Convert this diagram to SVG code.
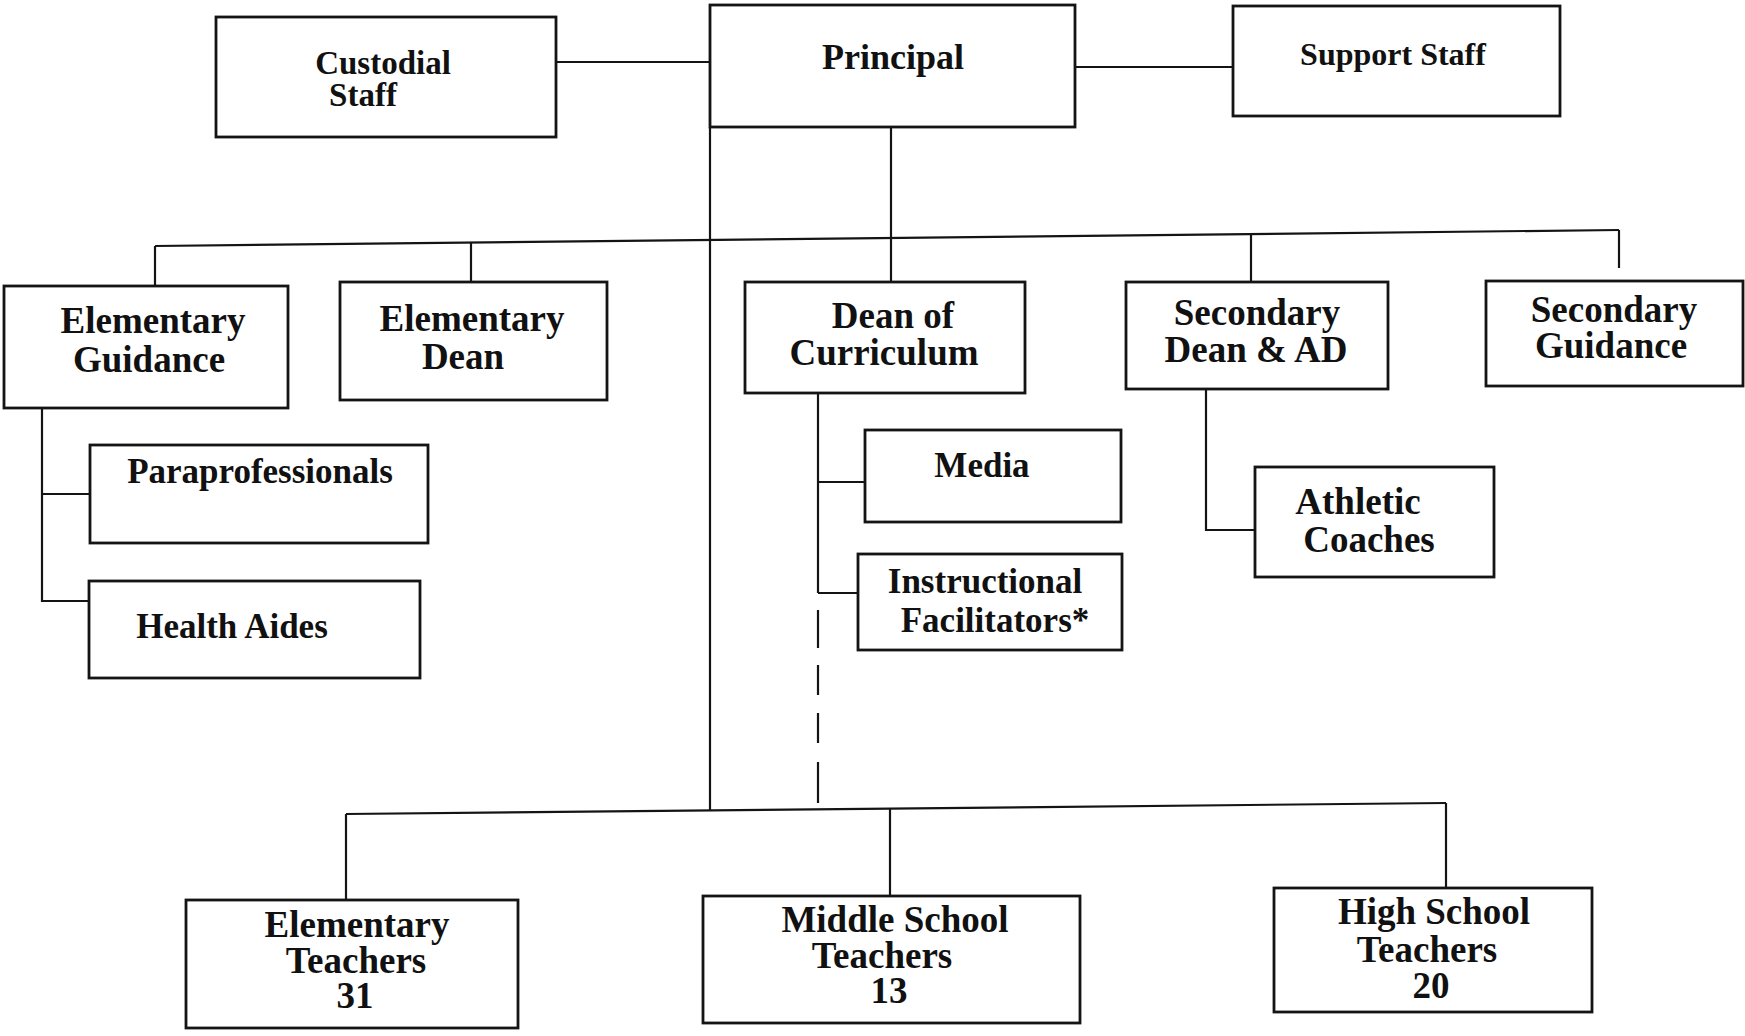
<svg xmlns="http://www.w3.org/2000/svg" width="1745" height="1036" viewBox="0 0 1745 1036">
<style>
.box{fill:#fff;stroke:#141414;stroke-width:2.8}
.ln{fill:none;stroke:#141414;stroke-width:2.2}
.t{font-family:"Liberation Serif","Times New Roman",serif;font-weight:bold;fill:#111;text-anchor:middle}
.s32{font-size:32px}
.s33{font-size:33px}
.s35{font-size:35px}
.s36{font-size:36px}
.s37{font-size:37px}
</style>
<rect width="1745" height="1036" fill="#fff"/>
<g id="connectors">
<line class="ln" x1="556" y1="62" x2="710" y2="62"/>
<line class="ln" x1="1075" y1="67" x2="1233" y2="67"/>
<line class="ln" x1="710" y1="127" x2="710" y2="811"/>
<line class="ln" x1="891" y1="127" x2="891" y2="282"/>
<line class="ln" x1="155" y1="246" x2="1619" y2="230"/>
<line class="ln" x1="155" y1="246" x2="155" y2="286"/>
<line class="ln" x1="471" y1="242.5" x2="471" y2="282"/>
<line class="ln" x1="1251" y1="234" x2="1251" y2="282"/>
<line class="ln" x1="1619" y1="230" x2="1619" y2="268"/>
<polyline class="ln" points="42,408 42,601 89,601"/>
<line class="ln" x1="42" y1="494" x2="90" y2="494"/>
<line class="ln" x1="818" y1="393" x2="818" y2="593"/>
<line class="ln" x1="818" y1="482" x2="865" y2="482"/>
<line class="ln" x1="818" y1="593" x2="858" y2="593"/>
<path class="ln" d="M818 610V648M818 665V695M818 713V743M818 762V803"/>
<polyline class="ln" points="1206,389 1206,530 1255,530"/>
<line class="ln" x1="346" y1="814" x2="1446" y2="803"/>
<line class="ln" x1="346" y1="814" x2="346" y2="900"/>
<line class="ln" x1="890" y1="808.6" x2="890" y2="896"/>
<line class="ln" x1="1446" y1="803" x2="1446" y2="888"/>
</g>
<g id="custodial-staff">
<rect class="box" x="216" y="17" width="340" height="120"/>
<text class="t s33" x="383" y="74">Custodial</text>
<text class="t s33" x="363" y="106">Staff</text>
</g>
<g id="principal">
<rect class="box" x="710" y="5" width="365" height="122"/>
<text class="t s36" x="893" y="69">Principal</text>
</g>
<g id="support-staff">
<rect class="box" x="1233" y="6" width="327" height="110"/>
<text class="t s32" x="1393" y="65">Support Staff</text>
</g>
<g id="elementary-guidance">
<rect class="box" x="4" y="286" width="284" height="122"/>
<text class="t s37" x="153" y="333">Elementary</text>
<text class="t s37" x="149" y="372">Guidance</text>
</g>
<g id="elementary-dean">
<rect class="box" x="340" y="282" width="267" height="118"/>
<text class="t s37" x="472" y="331">Elementary</text>
<text class="t s37" x="463" y="369">Dean</text>
</g>
<g id="dean-of-curriculum">
<rect class="box" x="745" y="282" width="280" height="111"/>
<text class="t s37" x="893" y="328">Dean of</text>
<text class="t s37" x="884" y="365">Curriculum</text>
</g>
<g id="secondary-dean-ad">
<rect class="box" x="1126" y="282" width="262" height="107"/>
<text class="t s37" x="1257" y="325">Secondary</text>
<text class="t s37" x="1256" y="362">Dean &amp; AD</text>
</g>
<g id="secondary-guidance">
<rect class="box" x="1486" y="281" width="257" height="105"/>
<text class="t s37" x="1614" y="322">Secondary</text>
<text class="t s37" x="1611" y="358">Guidance</text>
</g>
<g id="paraprofessionals">
<rect class="box" x="90" y="445" width="338" height="98"/>
<text class="t s35" x="260" y="483">Paraprofessionals</text>
</g>
<g id="health-aides">
<rect class="box" x="89" y="581" width="331" height="97"/>
<text class="t s35" x="232" y="638">Health Aides</text>
</g>
<g id="media">
<rect class="box" x="865" y="430" width="256" height="92"/>
<text class="t s35" x="982" y="477">Media</text>
</g>
<g id="instructional-facilitators">
<rect class="box" x="858" y="554" width="264" height="96"/>
<text class="t s35" x="985" y="593">Instructional</text>
<text class="t s35" x="995" y="632">Facilitators*</text>
</g>
<g id="athletic-coaches">
<rect class="box" x="1255" y="467" width="239" height="110"/>
<text class="t s37" x="1358" y="514">Athletic</text>
<text class="t s37" x="1369" y="552">Coaches</text>
</g>
<g id="elementary-teachers">
<rect class="box" x="186" y="900" width="332" height="128"/>
<text class="t s37" x="357" y="937">Elementary</text>
<text class="t s37" x="356" y="973">Teachers</text>
<text class="t s37" x="355" y="1008">31</text>
</g>
<g id="middle-school-teachers">
<rect class="box" x="703" y="896" width="377" height="127"/>
<text class="t s37" x="895" y="932">Middle School</text>
<text class="t s37" x="882" y="968">Teachers</text>
<text class="t s37" x="889" y="1003">13</text>
</g>
<g id="high-school-teachers">
<rect class="box" x="1274" y="888" width="318" height="124"/>
<text class="t s37" x="1434" y="924">High School</text>
<text class="t s37" x="1427" y="962">Teachers</text>
<text class="t s37" x="1431" y="998">20</text>
</g>
</svg>
